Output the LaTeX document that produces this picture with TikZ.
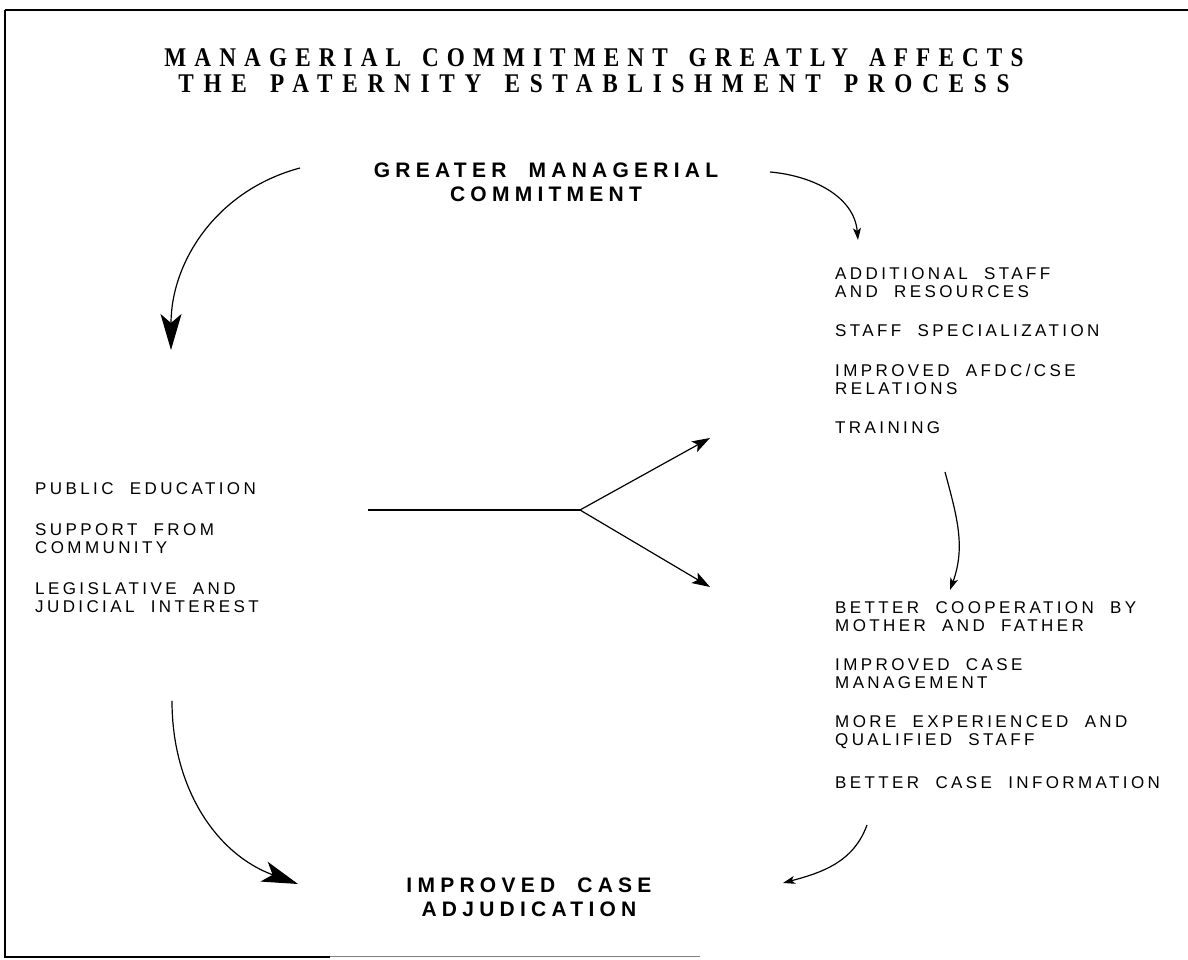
\documentclass[tikz,border=0pt]{standalone}
\usepackage{fontspec}
\setmainfont{Liberation Sans}
\newfontfamily\ttlfont[LetterSpace=30,WordSpace=1.5,FakeStretch=0.86]{Liberation Serif}
\newfontfamily\headfont[LetterSpace=25,WordSpace=2]{Liberation Sans}
\newfontfamily\bodyfont[LetterSpace=20,WordSpace=2]{Liberation Sans}
\usetikzlibrary{arrows.meta,positioning}
\tikzset{
	ttl/.style={font=\ttlfont\bfseries\fontsize{27}{26}\selectfont,align=center,inner sep=0,anchor=north},
	hd/.style={font=\headfont\bfseries\fontsize{21}{24}\selectfont,align=center,inner sep=0,anchor=north},
	itm/.style={font=\bodyfont\fontsize{17}{18}\selectfont,align=left,inner sep=0,anchor=north west},
	flow/.style={line width=1.2pt},
	bigtip/.style={flow,-{Stealth[length=36pt,width=21pt,inset=9pt]}},
	midtip/.style={flow,-{Stealth[length=18pt,width=12pt,inset=4pt]}},
	smalltip/.style={flow,-{Stealth[length=12pt,width=8pt,inset=3pt]}}
}

\begin{document}
\begin{tikzpicture}[x=1pt,y=1pt]
    \useasboundingbox (0,0) rectangle (1188,960);
    % frame
    \draw[line width=2.5pt] (5,950) -- (1188,950);
    \draw[line width=2pt] (5,950) -- (5,3) -- (330,3);
    \draw[line width=1pt,gray] (330,3) -- (700,3);

    \node (title) [ttl] at (594,912) {MANAGERIAL COMMITMENT GREATLY AFFECTS\\{\addfontfeature{LetterSpace=36}THE PATERNITY ESTABLISHMENT PROCESS}};
    \node (gmc) [hd] at (546,797) {GREATER MANAGERIAL\\COMMITMENT};
    \node (icad) [hd] at (529,82) {IMPROVED CASE\\ADJUDICATION};

    % right, upper
    \node (staff) [itm] at (835,693) {ADDITIONAL STAFF\\AND RESOURCES};
    \node (spec) [itm,below=27pt of staff.south west,anchor=north west] {STAFF SPECIALIZATION};
    \node (afdc) [itm,below=27pt of spec.south west,anchor=north west] {IMPROVED AFDC/CSE\\RELATIONS};
    \node (train) [itm,below=27pt of afdc.south west,anchor=north west] {TRAINING};

    % left
    \node (pub) [itm] at (35,478) {PUBLIC EDUCATION};
    \node (comm) [itm,below=29pt of pub.south west,anchor=north west] {SUPPORT FROM\\COMMUNITY};
    \node (legis) [itm,below=29pt of comm.south west,anchor=north west] {LEGISLATIVE AND\\JUDICIAL INTEREST};

    % right, lower
    \node (coop) [itm] at (835,359) {BETTER COOPERATION BY\\MOTHER AND FATHER};
    \node (mgmt) [itm,below=27pt of coop.south west,anchor=north west] {IMPROVED CASE\\MANAGEMENT};
    \node (qual) [itm,below=27pt of mgmt.south west,anchor=north west] {MORE EXPERIENCED AND\\QUALIFIED STAFF};
    \node (info) [itm,below=27pt of qual.south west,anchor=north west] {BETTER CASE INFORMATION};

    \coordinate (a1s) at (300,792);
    \coordinate (a1e) at (171,610);
    \coordinate (a2s) at (770,788);
    \coordinate (a2e) at (858,720);
    \coordinate (fin) at (368,450);
    \coordinate (fork) at (580,450);
    \coordinate (fup) at (710,522);
    \coordinate (fdn) at (710,373);
    \coordinate (a4s) at (945,488);
    \coordinate (a4e) at (950,370);
    \coordinate (a5s) at (172,259);
    \coordinate (a5e) at (298,76);
    \coordinate (a6s) at (867,135);
    \coordinate (a6e) at (783,77);

    \draw[bigtip] (a1s) to[out=195,in=90] (a1e);
    \draw[smalltip] (a2s) to[out=-5,in=95] (a2e);
    \draw[flow] (fin) -- (fork);
    \draw[midtip] (fork) -- (fup);
    \draw[midtip] (fork) -- (fdn);
    \draw[smalltip] (a4s) to[out=-75,in=70] (a4e);
    \draw[bigtip] (a5s) to[out=270,in=160] (a5e);
    \draw[smalltip] (a6s) to[out=250,in=15] (a6e);
\end{tikzpicture}
\end{document}
